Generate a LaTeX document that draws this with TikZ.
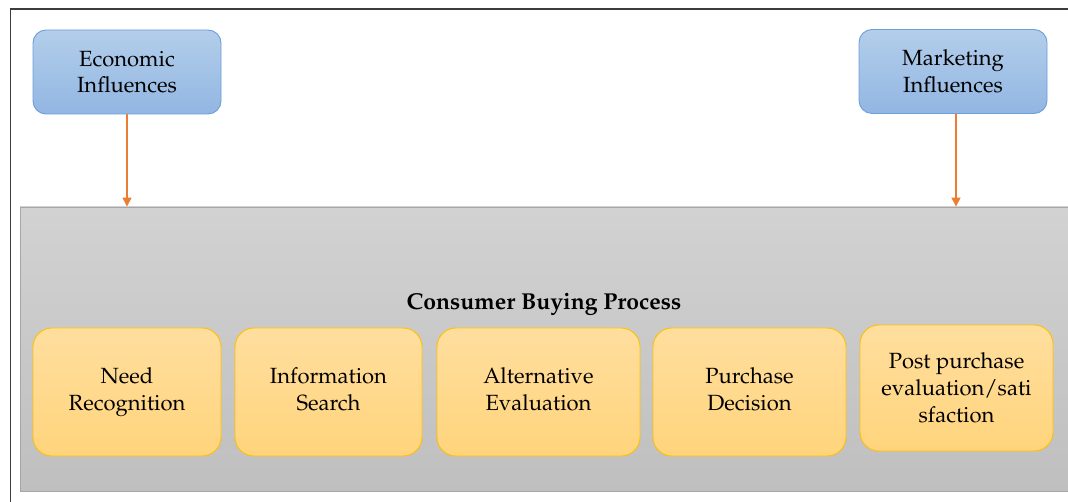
\documentclass[tikz,border=0pt]{standalone}
\usepackage[T1]{fontenc}
\usepackage{mathpazo}
\usetikzlibrary{arrows.meta}
\definecolor{frameline}{HTML}{3C3C3C}
\definecolor{blueTop}{HTML}{B3CEEB}
\definecolor{blueBot}{HTML}{92B6E2}
\definecolor{blueLine}{HTML}{6A9FD8}
\definecolor{ambTop}{HTML}{FFDE9E}
\definecolor{ambBot}{HTML}{FFD47C}
\definecolor{ambLine}{HTML}{FFC000}
\definecolor{greyTop}{HTML}{D2D2D2}
\definecolor{greyBot}{HTML}{BFBFBF}
\definecolor{greyLine}{HTML}{A6A6A6}
\definecolor{arrowOr}{HTML}{ED7D31}
\tikzset{
  influence/.style={rectangle, rounded corners=13pt, draw=blueLine, line width=0.9pt,
    top color=blueTop, bottom color=blueBot, align=center, inner sep=0pt,
    minimum width=188pt, minimum height=84pt,
    font=\fontsize{22}{26.5}\selectfont},
  stepbox/.style={rectangle, rounded corners=19pt, draw=ambLine, line width=0.9pt,
    top color=ambTop, bottom color=ambBot, align=center, inner sep=0pt,
    minimum height=128pt, font=\fontsize{22}{27}\selectfont},
  panel/.style={rectangle, draw=greyLine, line width=0.9pt,
    top color=greyTop, bottom color=greyBot, inner sep=0pt},
  flow/.style={color=arrowOr, line width=1.4pt, -{Triangle[width=9pt,length=9pt]}}
}
\begin{document}
\begin{tikzpicture}[x=1pt,y=-1pt]
\useasboundingbox (0,0) rectangle (1068,502);
\begin{scope}
\clip (0,0) rectangle (1068,502);
% outer frame
\draw[frameline, line width=1.3pt] (10.5,510) -- (10.5,9) -- (1080,9);
% grey process panel
\node[panel, minimum width=1060pt, minimum height=284pt] (proc) at (550,349) {};
\end{scope}

\node[font=\bfseries\fontsize{23}{27}\selectfont, anchor=base] (title) at (544,310) {Consumer Buying Process};

% influence boxes
\node[influence] (econ) at (127,72) {Economic\\Influences};
\node[influence] (mkt) at (953,71.5) {Marketing\\Influences};

% buying process stages
\node[stepbox, minimum width=188pt] (s1) at (127,392) {\strut Need\\\strut Recognition};
\node[stepbox, minimum width=187pt] (s2) at (328.5,392) {\strut Information\\\strut Search};
\node[stepbox, minimum width=203pt] (s3) at (538.5,392) {\strut Alternative\\\strut Evaluation};
\node[stepbox, minimum width=193pt] (s4) at (749.5,392) {\strut Purchase\\\strut Decision};
\node[stepbox, minimum width=193pt, minimum height=126pt] (s5) at (956.5,388) {Post purchase\\evaluation/sati\\sfaction};

% influence arrows
\coordinate (econDrop) at (econ.south);
\coordinate (mktDrop) at ([xshift=3pt]mkt.south);
\draw[flow] (econDrop) -- (econDrop |- proc.north);
\draw[flow] (mktDrop) -- (mktDrop |- proc.north);
\end{tikzpicture}
\end{document}
